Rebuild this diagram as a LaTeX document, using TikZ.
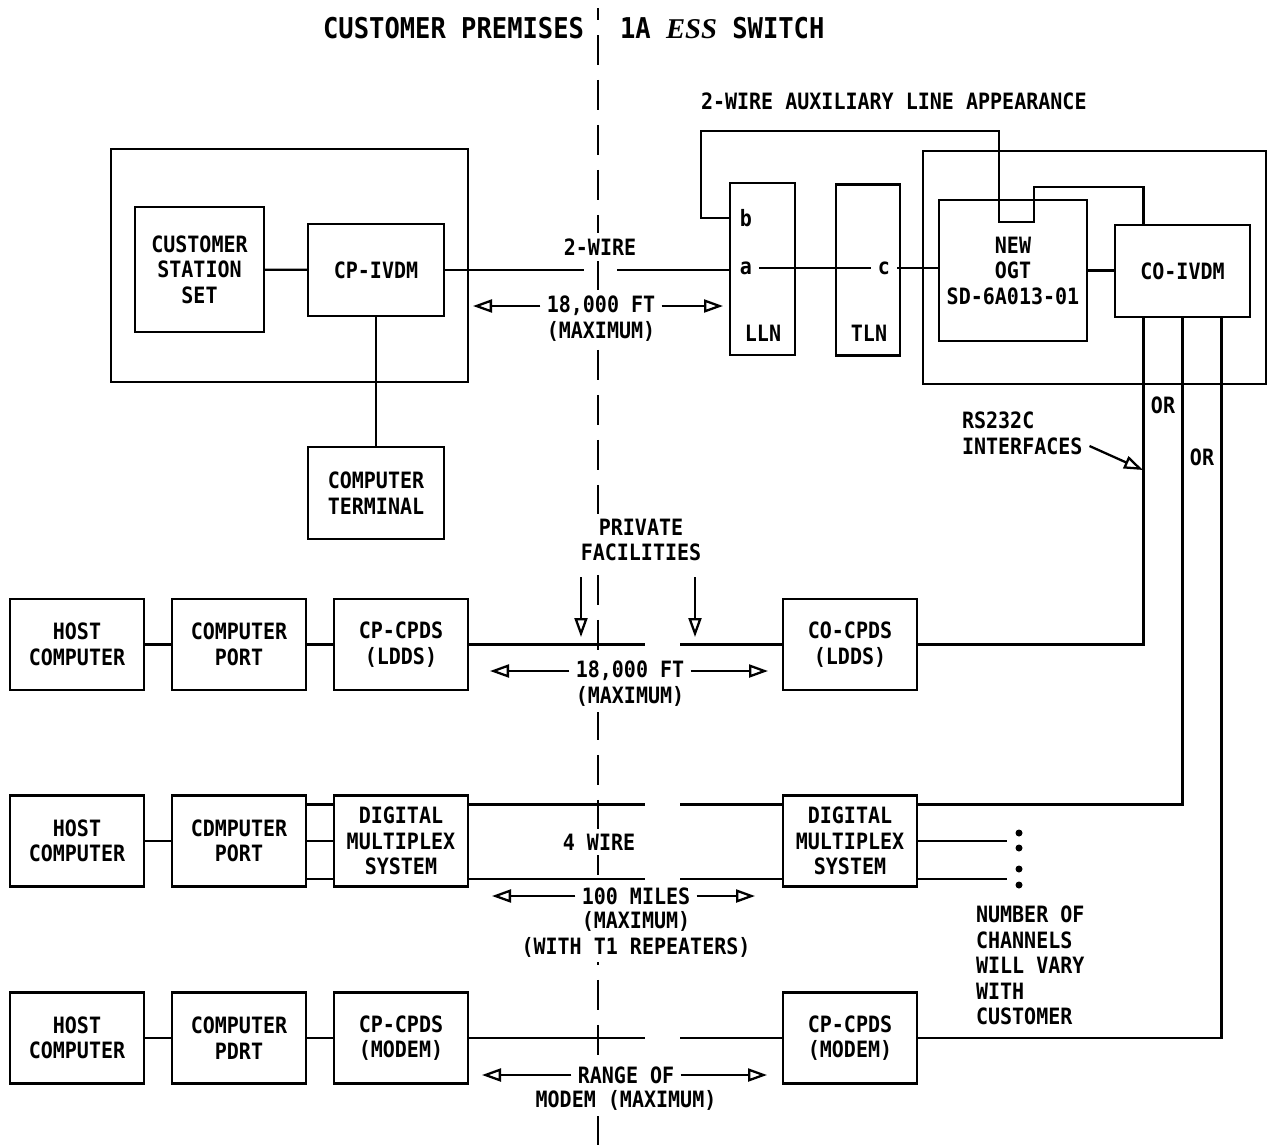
\documentclass[tikz,border=0pt]{standalone}
\usepackage{fontspec}
\setmainfont{DejaVu Sans Mono}[FakeStretch=0.89]
\newfontfamily\essfont{Liberation Serif}
\usetikzlibrary{arrows.meta}

\begin{document}
\begin{tikzpicture}[x=0.02cm, y=-0.02cm, line width=1.3pt, node distance=0.51cm,
    every node/.style={font=\bfseries\fontsize{12.8}{14.5}\selectfont},
    blk/.style={draw, align=center, inner sep=0pt},
    unit/.style={blk, minimum width=2.68cm, minimum height=1.82cm},
    lbl/.style={fill=white, inner sep=3pt},
    dim/.style={-{Triangle[open, length=0.38cm, width=0.26cm]}},
    split/.style={dash pattern=on 0.6cm off 0.3cm, dash phase=0.36cm},
    ttl/.style={font=\bfseries\fontsize{16.3}{18}\selectfont}]
    \useasboundingbox (0,0) rectangle (1269,1147);

    % boundary customer premises / switch
    \coordinate (top) at (598,8);
    \coordinate (bot) at (598,1147);
    \draw[split] (top) -- (bot);
    \node[ttl, anchor=east] (cust) at (591,28) {CUSTOMER PREMISES};
    \node[ttl, anchor=west] (sw) at (613,28) {1A {\essfont\itshape ESS} SWITCH};

    % customer premises
    \node[blk, minimum width=7.14cm, minimum height=4.66cm] (cp) at (289.5,265.5) {};
    \node[blk, minimum width=2.58cm, minimum height=2.5cm] (css) at (199.5,269.5) {CUSTOMER\\STATION\\SET};
    \node[blk, minimum width=2.72cm, minimum height=1.84cm] (cpivdm) at (376,270) {CP-IVDM};
    \node[blk, minimum width=2.72cm, minimum height=1.84cm] (term) at (376,493) {COMPUTER\\TERMINAL};

    % 1A ESS switch
    \node[blk, minimum width=1.3cm, minimum height=3.44cm] (lln) at (762.5,269) {};
    \node[blk, minimum width=1.28cm, minimum height=3.42cm] (tln) at (868,270) {};
    \node (b) at (746,218) {b};
    \node (a) at (746,268) {a};
    \node (c) at (884,268) {c};
    \node (llnt) at (763,333) {LLN};
    \node (tlnt) at (869,333) {TLN};
    \node[blk, minimum width=6.86cm, minimum height=4.66cm] (ess) at (1094.5,267.5) {};
    \node[blk, minimum width=2.96cm, minimum height=2.82cm] (ogt) at (1013,270.5) {NEW\\OGT\\SD-6A013-01};
    \node[blk, minimum width=2.7cm, minimum height=1.84cm] (coivdm) at (1182.5,271) {CO-IVDM};
    \node[anchor=west] (aux) at (694,101) {2-WIRE AUXILIARY LINE APPEARANCE};

    % data rows
    \node[unit] (h1) at (77,644.5) {HOST\\COMPUTER};
    \node[unit, right of=h1, node distance=3.24cm] (p1) {COMPUTER\\PORT};
    \node[unit, right of=p1, node distance=3.24cm] (l1) {CP-CPDS\\(LDDS)};
    \node[unit] (r1) at (850,644.5) {CO-CPDS\\(LDDS)};

    \node[unit] (h2) at (77,841) {HOST\\COMPUTER};
    \node[unit, right of=h2, node distance=3.24cm] (p2) {CDMPUTER\\PORT};
    \node[unit, right of=p2, node distance=3.24cm] (m2) {DIGITAL\\MULTIPLEX\\SYSTEM};
    \node[unit] (r2) at (850,841) {DIGITAL\\MULTIPLEX\\SYSTEM};

    \node[unit] (h3) at (77,1038) {HOST\\COMPUTER};
    \node[unit, right of=h3, node distance=3.24cm] (p3) {COMPUTER\\PDRT};
    \node[unit, right of=p3, node distance=3.24cm] (l3) {CP-CPDS\\(MODEM)};
    \node[unit] (r3) at (850,1038) {CP-CPDS\\(MODEM)};

    % labels
    \node[lbl] (w2) at (600,247) {2-WIRE};
    \node[lbl] (d1) at (601,306) {18,000 FT};
    \node[lbl, below of=d1] (d1m) {(MAXIMUM)};
    \node[lbl] (pf) at (641,527) {PRIVATE};
    \node[lbl, below of=pf] (pfm) {FACILITIES};
    \node[lbl] (d2) at (630,671) {18,000 FT};
    \node[lbl, below of=d2] (d2m) {(MAXIMUM)};
    \node[lbl] (w4) at (599,842) {4 WIRE};
    \node[lbl] (d3) at (636,896) {100 MILES};
    \node[lbl, below of=d3] (d3m) {(MAXIMUM)};
    \node[lbl, below of=d3m] (d3t) {(WITH T1 REPEATERS)};
    \node[lbl] (d4) at (626,1075) {RANGE OF};
    \node[lbl, below of=d4] (d4m) {MODEM (MAXIMUM)};
    \node (or1) at (1163,405) {OR};
    \node (or2) at (1202,457) {OR};
    \node[anchor=west] (rs1) at (955,420) {RS232C};
    \node[anchor=west] (rs2) at (955,446) {INTERFACES};
    \node[anchor=north west, align=left] (nch) at (969,899) {NUMBER OF\\CHANNELS\\WILL VARY\\WITH\\CUSTOMER};

    % line breaks and arrow ends
    \coordinate (gapa) at (584,0);
    \coordinate (gapb) at (617,0);
    \coordinate (gapc) at (645,0);
    \coordinate (gapd) at (680,0);
    \coordinate (d1l) at (473,0);
    \coordinate (d1r) at (723,0);
    \coordinate (d2l) at (490,0);
    \coordinate (d2r) at (768,0);
    \coordinate (d3l) at (492,0);
    \coordinate (d3r) at (755,0);
    \coordinate (d4l) at (482,0);
    \coordinate (d4r) at (767,0);
    \coordinate (pfl) at (581,637);
    \coordinate (pfr) at (695,637);
    \coordinate (rstip) at (1143,470);
    \coordinate (auxa) at (701,131);
    \coordinate (auxb) at (999,222);
    \coordinate (auxc) at (1034,187);
    \coordinate (chan) at (1007,0);

    % top row wiring
    \draw (css) -- (cpivdm);
    \draw (cpivdm) -- (term);
    \draw (cpivdm.east) -- (cpivdm.east -| gapa);
    \draw (gapb |- cpivdm.east) -- (cpivdm.east -| lln.west);
    \draw (a.east) -- (a.east -| c.west);
    \draw (c.east) -- (c.east -| ogt.west);
    \draw (ogt.east) -- (ogt.east -| coivdm.west);
    \draw (b.west -| lln.west) -| (auxa) -| (auxb) -| (auxc) -| ([xshift=-0.78cm]coivdm.north);
    \draw[dim] (d1.west) -- (d1.west -| d1l);
    \draw[dim] (d1.east) -- (d1.east -| d1r);

    % RS232C drops
    \draw ([xshift=-0.78cm]coivdm.south) |- (r1.east);
    \draw (coivdm.south) |- ([yshift=-0.2cm]r2.north east);
    \draw ([xshift=0.78cm]coivdm.south) |- (r3.east);
    \draw[dim] (rs2.east) -- (rstip);

    % LDDS row
    \draw (h1) -- (p1);
    \draw (p1) -- (l1);
    \draw (l1.east) -- (l1.east -| gapc);
    \draw (r1.west) -- (r1.west -| gapd);
    \draw[dim] ([yshift=-0.2cm]pfm.south -| pfl) -- (pfl);
    \draw[dim] ([yshift=-0.2cm]pfm.south -| pfr) -- (pfr);
    \draw[dim] (d2.west) -- (d2.west -| d2l);
    \draw[dim] (d2.east) -- (d2.east -| d2r);

    % multiplex row
    \draw (h2) -- (p2);
    \draw ([yshift=-0.2cm]p2.north east) -- ([yshift=-0.2cm]m2.north west);
    \draw (p2) -- (m2);
    \draw ([yshift=0.18cm]p2.south east) -- ([yshift=0.18cm]m2.south west);
    \draw ([yshift=-0.2cm]m2.north east) -- ([yshift=-0.2cm]m2.north east -| gapc);
    \draw ([yshift=0.18cm]m2.south east) -- ([yshift=0.18cm]m2.south east -| gapc);
    \draw ([yshift=-0.2cm]r2.north west) -- ([yshift=-0.2cm]r2.north west -| gapd);
    \draw ([yshift=0.18cm]r2.south west) -- ([yshift=0.18cm]r2.south west -| gapd);
    \draw (r2.east) -- (r2.east -| chan);
    \draw ([yshift=0.18cm]r2.south east) -- ([yshift=0.18cm]r2.south east -| chan);
    \foreach \y in {833,848,869,885}
        \fill (1019,\y) circle (0.07cm);
    \draw[dim] (d3.west) -- (d3.west -| d3l);
    \draw[dim] (d3.east) -- (d3.east -| d3r);

    % modem row
    \draw (h3) -- (p3);
    \draw (p3) -- (l3);
    \draw (l3.east) -- (l3.east -| gapc);
    \draw (r3.west) -- (r3.west -| gapd);
    \draw[dim] (d4.west) -- (d4.west -| d4l);
    \draw[dim] (d4.east) -- (d4.east -| d4r);
\end{tikzpicture}
\end{document}
